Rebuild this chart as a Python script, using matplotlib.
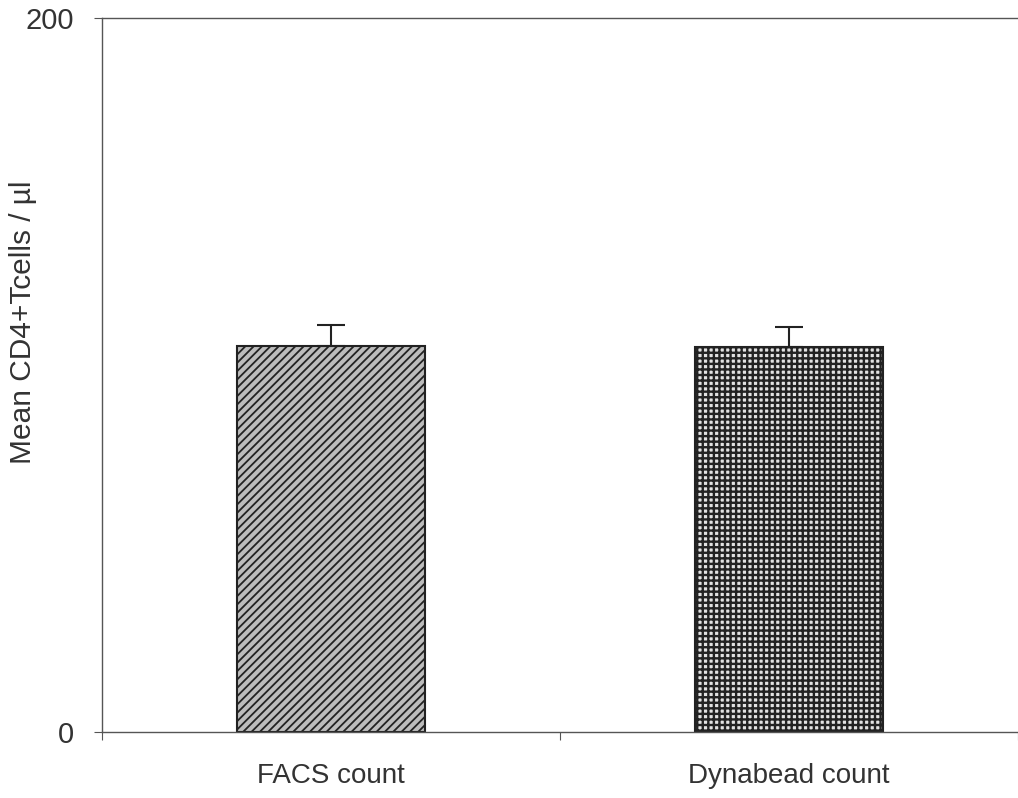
import matplotlib.pyplot as plt

plt.rcParams['font.family'] = ['Liberation Sans', 'DejaVu Sans']
plt.rcParams['hatch.linewidth'] = 1.3

categories = ['FACS count', 'Dynabead count']
means = [108.1, 107.8]
errors = [5.9, 5.6]

fig = plt.figure(figsize=(10.18, 7.98), dpi=100)
ax = fig.add_axes([0.1002, 0.0827, 0.8998, 0.8947])

x = range(len(categories))
bars = ax.bar(x, means, width=0.41, color=['#bcbcbc', '#e2e2e2'],
              edgecolor='#222222', linewidth=1.5, zorder=2)
bars[0].set_hatch('////')
bars[1].set_hatch('+++')
if hasattr(bars[1], 'set_hatch_linewidth'):
    bars[1].set_hatch_linewidth(1.7)
ax.errorbar(x, means, yerr=[[0, 0], errors], fmt='none', ecolor='#222222',
            elinewidth=1.5, capsize=10, capthick=1.5, zorder=3)

ax.set_xlim(-0.5, 1.5)
ax.set_ylim(0, 200)
ax.set_yticks([0, 200])
ax.set_yticklabels(['0', '200'], fontsize=21, color='#333333')
ax.set_xticks([-0.5, 0.5, 1.5])
ax.set_xticklabels([])
ax.tick_params(axis='both', direction='out', length=6, color='#555555')
ax.tick_params(axis='y', pad=14)
for i, c in enumerate(categories):
    ax.text(i, -0.044, c, transform=ax.get_xaxis_transform(), ha='center',
            va='top', fontsize=20, color='#333333')

fig.text(23 / 1018, 1 - 322 / 798, 'Mean CD4+Tcells / µl', rotation=90,
         ha='center', va='center', fontsize=21.5, color='#333333')

for side in ['top', 'left', 'bottom']:
    ax.spines[side].set_color('#555555')
    ax.spines[side].set_linewidth(1.0)
ax.spines['right'].set_visible(False)

fig.savefig('out.png', dpi=100)
